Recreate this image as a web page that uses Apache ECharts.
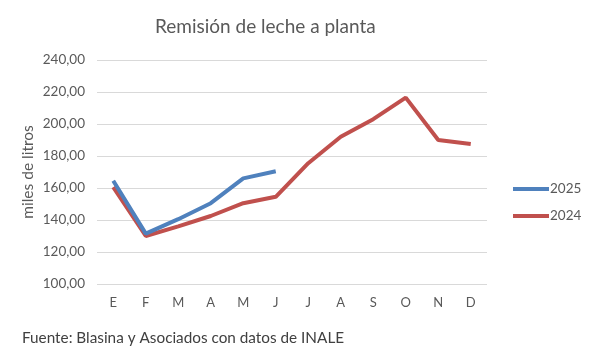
<!DOCTYPE html>
<html>
<head>
<meta charset="utf-8">
<script src="https://cdn.jsdelivr.net/npm/echarts@6/dist/echarts.min.js"></script>
<style>
  html, body { margin: 0; padding: 0; background: #fff; }
  #chart { width: 593px; height: 353px; }
</style>
</head>
<body>
<div id="chart"></div>
<script>
// meses
const months = ["E", "F", "M", "A", "M", "J", "J", "A", "S", "O", "N", "D"];
// miles de litros
const serie2025 = [164.5, 131.5, 140.5, 150.5, 166, 170.5];
const serie2024 = [160.5, 130, 136, 142.5, 150.5, 154.5, 175.5, 192, 203, 216.5, 190, 187.5];
const yTicks = [100, 120, 140, 160, 180, 200, 220, 240];

const font = "Lato, 'Open Sans', sans-serif";
const chart = echarts.init(document.getElementById("chart"));
chart.setOption({
  animation: false,
  textStyle: { fontFamily: font },
  title: {
    text: "Remisión de leche a planta",
    left: 150,
    top: 12,
    textStyle: { fontSize: 19, fontWeight: "normal", color: "#595959", fontFamily: font },
  },
  graphic: [
    {
      type: "text",
      left: 22,
      top: 331,
      style: { text: "Fuente: Blasina y Asociados con datos de INALE", fontSize: 15.3, fill: "#404040", fontFamily: font },
    },
    {
      // titulo del eje vertical
      type: "text",
      x: 28,
      y: 172,
      rotation: Math.PI / 2,
      style: {
        text: "miles de litros",
        fontSize: 15.5,
        fill: "#595959",
        fontFamily: font,
        align: "center",
        verticalAlign: "middle",
      },
    },
  ],
  legend: {
    data: ["2025", "2024"],
    orient: "vertical",
    left: 508,
    top: 177,
    itemWidth: 36,
    itemHeight: 4,
    itemGap: 13,
    icon: "rect",
    textStyle: { fontSize: 13.5, color: "#595959", padding: [0, 0, 0, -4] },
  },
  grid: { left: 97, right: 106, top: 60, bottom: 69 },
  xAxis: {
    type: "category",
    data: months,
    boundaryGap: true,
    axisLine: { show: false },
    axisTick: { show: false },
    axisLabel: { color: "#595959", fontSize: 13, margin: 12 },
  },
  yAxis: {
    type: "value",
    min: yTicks[0],
    max: yTicks[yTicks.length - 1],
    interval: 20,
    axisLine: { show: false },
    axisTick: { show: false },
    splitLine: { lineStyle: { color: "#d9d9d9", width: 1 } },
    axisLabel: {
      color: "#595959",
      fontSize: 13.5,
      margin: 12,
      formatter: (v) => v.toFixed(2).replace(".", ","),
    },
  },
  series: [
    {
      name: "2024",
      type: "line",
      data: serie2024,
      symbol: "none",
      lineStyle: { width: 4, color: "#C0504D" },
      itemStyle: { color: "#C0504D" },
    },
    {
      name: "2025",
      type: "line",
      data: serie2025,
      symbol: "none",
      lineStyle: { width: 4, color: "#4F81BD" },
      itemStyle: { color: "#4F81BD" },
    },
  ],
});
</script>
</body>
</html>
